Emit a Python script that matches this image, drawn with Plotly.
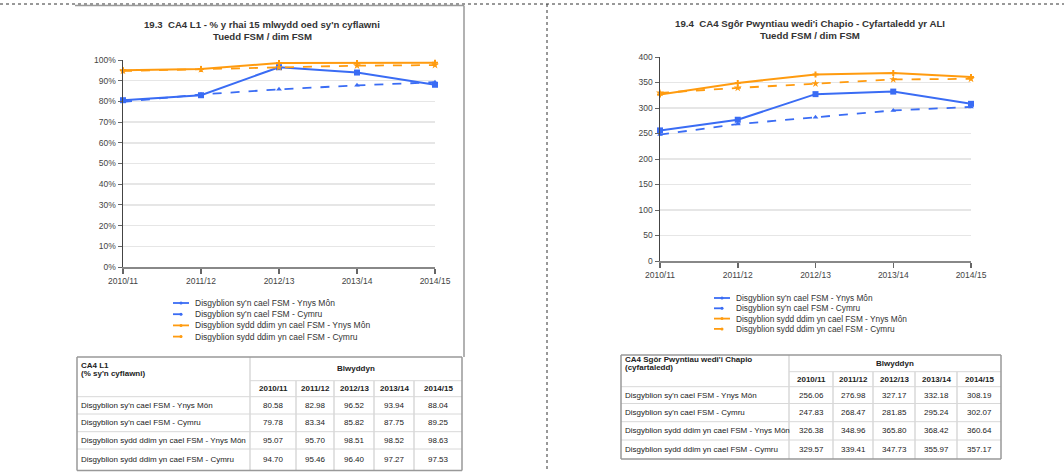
import plotly.graph_objects as go

W, H = 1064, 472
FONT = "Liberation Sans, Arial, sans-serif"

# ---------------- data ----------------
years = ["2010/11", "2011/12", "2012/13", "2013/14", "2014/15"]
series_names = [
    "Disgyblion sy'n cael FSM - Ynys Môn",
    "Disgyblion sy'n cael FSM - Cymru",
    "Disgyblion sydd ddim yn cael FSM - Ynys Môn",
    "Disgyblion sydd ddim yn cael FSM - Cymru",
]

l1_fsm_mon = [80.58, 82.98, 96.52, 93.94, 88.04]
l1_fsm_cym = [79.78, 83.34, 85.82, 87.75, 89.25]
l1_non_mon = [95.07, 95.70, 98.51, 98.52, 98.63]
l1_non_cym = [94.70, 95.46, 96.40, 97.27, 97.53]

cap_fsm_mon = [256.06, 276.98, 327.17, 332.18, 308.19]
cap_fsm_cym = [247.83, 268.47, 281.85, 295.24, 302.07]
cap_non_mon = [326.38, 348.96, 365.80, 368.42, 360.64]
cap_non_cym = [329.57, 339.41, 347.73, 355.97, 357.17]

left_title = ["19.3  CA4 L1 - % y rhai 15 mlwydd oed sy'n cyflawni", "Tuedd FSM / dim FSM"]
right_title = ["19.4  CA4 Sgôr Pwyntiau wedi'i Chapio - Cyfartaledd yr ALI", "Tuedd FSM / dim FSM"]
left_tickvals = [0, 10, 20, 30, 40, 50, 60, 70, 80, 90, 100]
left_ticktext = ["0%", "10%", "20%", "30%", "40%", "50%", "60%", "70%", "80%", "90%", "100%"]
right_tickvals = [0, 50, 100, 150, 200, 250, 300, 350, 400]

table1_head = ["CA4 L1", "(% sy'n cyflawni)"]
table2_head = ["CA4 Sgôr Pwyntiau wedi'i Chapio", "(cyfartaledd)"]
year_head = "Blwyddyn"

left_series = [l1_fsm_mon, l1_fsm_cym, l1_non_mon, l1_non_cym]
right_series = [cap_fsm_mon, cap_fsm_cym, cap_non_mon, cap_non_cym]

# ---------------- styles ----------------
BLUE = "#3a6cf4"
ORANGE = "#ff9b0f"
styles = [
    dict(color=BLUE, dash="solid", symbol="square", size=6, width=2),
    dict(color=BLUE, dash="dash", symbol="triangle-up", size=5, width=1.8),
    dict(color=ORANGE, dash="solid", symbol="cross", size=5, width=2),
    dict(color=ORANGE, dash="dash", symbol="star", size=6, width=1.8),
]


def px(x):
    return x / W


def py(y):
    return 1 - y / H


fig = go.Figure()

for axis_suffix, data in (("", left_series), ("2", right_series)):
    for name, vals, st in zip(series_names, data, styles):
        fig.add_trace(go.Scatter(
            x=years, y=vals, name=name, mode="lines+markers",
            xaxis="x" + axis_suffix, yaxis="y" + axis_suffix,
            line=dict(color=st["color"], dash=st["dash"], width=st["width"]),
            marker=dict(color=st["color"], symbol=st["symbol"], size=st["size"]),
            cliponaxis=False, showlegend=False,
        ))

tick_font = dict(family=FONT, size=8.5, color="#444")
xcommon = dict(type="category", range=[0, 4], showline=True, linecolor="#888", linewidth=2,
               ticks="outside", ticklen=5, tickcolor="#666", tickwidth=1.5,
               showgrid=False, zeroline=False, tickfont=tick_font, fixedrange=True,
               automargin=False)
ycommon = dict(showline=True, linecolor="#444", linewidth=1.5, ticks="outside", ticklen=4,
               tickcolor="#666", tickwidth=1, gridcolor="#e6e6e6", gridwidth=1.5,
               zeroline=False, tickfont=tick_font, fixedrange=True, automargin=False)

shapes = []
annotations = []


def line(x0, y0, x1, y1, color, width=1, dash="solid"):
    shapes.append(dict(type="line", xref="paper", yref="paper",
                       x0=px(x0), y0=py(y0), x1=px(x1), y1=py(y1),
                       line=dict(color=color, width=width, dash=dash)))


def text(x, y, s, size=8, bold=False, xanchor="center", color="#222"):
    annotations.append(dict(xref="paper", yref="paper", x=px(x), y=py(y),
                            text=("<b>%s</b>" % s) if bold else s, showarrow=False,
                            xanchor=xanchor, yanchor="middle",
                            font=dict(family=FONT, size=size, color=color)))


# page frame (dotted) and chart frame
line(0, 4, W, 4, "#333", 1, "dot")
line(547, 4, 547, H, "#333", 1, "dot")
line(75, 5.5, 464, 5.5, "#999", 1.5)
line(464, 5.5, 464, 357, "#999", 1.5)

# titles
text(262, 25, left_title[0], size=9.6, bold=True, color="#333")
text(262, 36, left_title[1], size=9.6, bold=True, color="#333")
text(810, 24, right_title[0], size=9.7, bold=True, color="#333")
text(810, 35, right_title[1], size=9.7, bold=True, color="#333")


# legends
def legend(x0, y0, dy, fs):
    for i, (name, st) in enumerate(zip(series_names, styles)):
        y = y0 + i * dy
        line(x0, y, x0 + 16, y, st["color"], 1.8, "dash" if st["dash"] == "dash" else "solid")
        shapes.append(dict(type="circle", xref="paper", yref="paper",
                           x0=px(x0 + 6.5), x1=px(x0 + 9.5), y0=py(y - 1.5), y1=py(y + 1.5),
                           fillcolor=st["color"], line=dict(width=0)))
        text(x0 + 20, y, name, size=fs, xanchor="left", color="#333")


legend(173, 303, 11.2, 8.5)
legend(714, 298, 10.3, 8.3)


# tables
def table(xe, ye, head, data):
    x0, x1 = xe[0], xe[-1]
    y0, y1 = ye[0], ye[-1]
    inner = "#d8d8d8"
    line(xe[1], ye[1], x1, ye[1], inner, 1)
    for yy in ye[2:-1]:
        line(x0, yy, x1, yy, inner, 1)
    line(xe[1], y0, xe[1], y1, inner, 1.5)
    for xx in xe[2:-1]:
        line(xx, ye[1], xx, y1, inner, 1.5)
    line(x0, y0, x1, y0, "#999", 1.5)
    line(x0, y1, x1, y1, "#999", 1.5)
    line(x0, y0, x0, y1, "#999", 1.5)
    line(x1, y0, x1, y1, "#999", 1.5)
    text(x0 + 2, (y0 + ye[1]) / 2 - 3.5, head[0], size=8, bold=True, xanchor="left")
    text(x0 + 2, (y0 + ye[1]) / 2 + 4.5, head[1], size=8, bold=True, xanchor="left")
    text((xe[1] + x1) / 2, (y0 + ye[1]) / 2, year_head, size=8, bold=True)
    for j, yr in enumerate(years):
        text((xe[j + 1] + xe[j + 2]) / 2, (ye[1] + ye[2]) / 2, yr, size=8, bold=True)
    for i, (name, vals) in enumerate(zip(series_names, data)):
        yc = (ye[i + 2] + ye[i + 3]) / 2
        text(x0 + 2, yc, name, size=8, xanchor="left")
        for j, v in enumerate(vals):
            text((xe[j + 1] + xe[j + 2]) / 2, yc, "%.2f" % v, size=8)


table([77, 250, 296, 334, 374, 414, 462], [357, 380.7, 396.7, 414, 431.7, 449, 470.5],
      table1_head, left_series)
table([621, 789, 833, 873, 915, 957, 1001], [355, 371.7, 386.7, 403.5, 421.7, 440, 459],
      table2_head, right_series)

fig.update_layout(
    width=W, height=H, margin=dict(l=0, r=0, t=0, b=0, pad=0, autoexpand=False),
    autosize=False, hovermode=False, dragmode=False,
    paper_bgcolor="white", plot_bgcolor="white", showlegend=False,
    font=dict(family=FONT, size=8.5, color="#333"),
    xaxis=dict(domain=[px(123), px(435)], anchor="y", **xcommon),
    yaxis=dict(domain=[py(267), py(60)], anchor="x", range=[0, 100],
               tickvals=left_tickvals, ticktext=left_ticktext, **ycommon),
    xaxis2=dict(domain=[px(660), px(971)], anchor="y2", **xcommon),
    yaxis2=dict(domain=[py(261), py(57)], anchor="x2", range=[0, 400],
                tickvals=right_tickvals, **ycommon),
    shapes=shapes, annotations=annotations,
)

fig.write_html("out.html", config={"staticPlot": True, "displayModeBar": False},
               post_script="document.body.style.margin='0px';")
